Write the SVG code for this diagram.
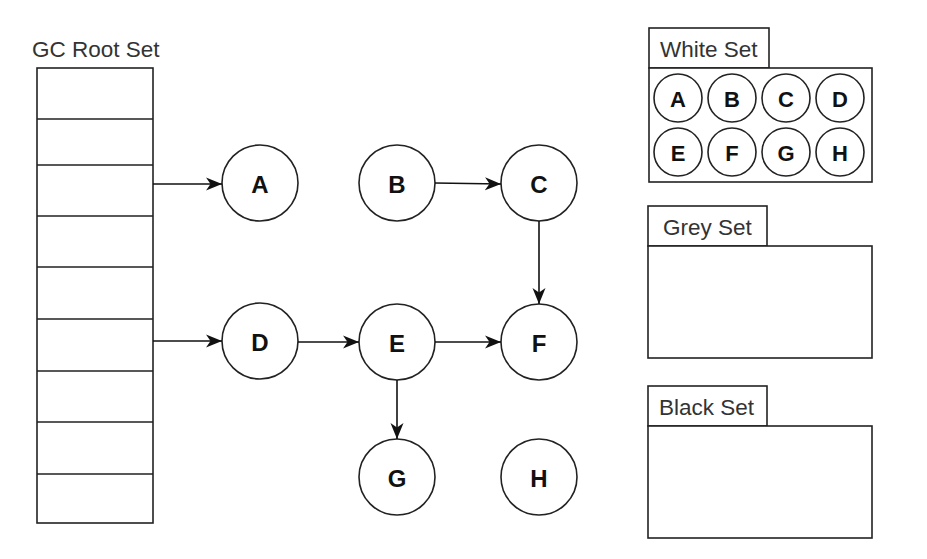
<svg xmlns="http://www.w3.org/2000/svg" width="927" height="559" viewBox="0 0 927 559">
<style>
.shape{fill:#fff;stroke:#222;stroke-width:1.6}
.lbl{font-family:"Liberation Sans",Arial,sans-serif;font-size:22.5px;fill:#333}
.node{font-family:"Liberation Sans",Arial,sans-serif;font-size:24px;font-weight:bold;fill:#111;text-anchor:middle;dominant-baseline:central}
.small{font-size:22px}
.edge{fill:none;stroke:#111;stroke-width:1.6;marker-end:url(#arrow)}
</style>
<defs>
<marker id="arrow" markerUnits="userSpaceOnUse" markerWidth="18" markerHeight="14" refX="16" refY="7" orient="auto">
<path d="M0,0.5 L16,7 L0,13.5 L4.5,7 Z" fill="#111"/>
</marker>
</defs>
<rect width="927" height="559" fill="#fff"/>

<g id="root-set">
<text class="lbl" x="32" y="57">GC Root Set</text>
<rect class="shape" x="37" y="68" width="116" height="455"/>
<path d="M37,119H153M37,165H153M37,216H153M37,267H153M37,319H153M37,371H153M37,422H153M37,474H153" stroke="#222" stroke-width="1.6" fill="none"/>
</g>

<g id="node-A"><circle class="shape" cx="260" cy="183" r="38"/><text class="node" x="260" y="184">A</text></g>
<g id="node-B"><circle class="shape" cx="397" cy="183" r="38"/><text class="node" x="397" y="184">B</text></g>
<g id="node-C"><circle class="shape" cx="539" cy="183" r="38"/><text class="node" x="539" y="184">C</text></g>
<g id="node-D"><circle class="shape" cx="260" cy="341" r="38"/><text class="node" x="260" y="342">D</text></g>
<g id="node-E"><circle class="shape" cx="397" cy="342" r="38"/><text class="node" x="397" y="343">E</text></g>
<g id="node-F"><circle class="shape" cx="539" cy="342" r="38"/><text class="node" x="539" y="343">F</text></g>
<g id="node-G"><circle class="shape" cx="397" cy="477" r="38"/><text class="node" x="397" y="478">G</text></g>
<g id="node-H"><circle class="shape" cx="539" cy="477" r="38"/><text class="node" x="539" y="478">H</text></g>

<g id="connectors">
<path class="edge" d="M153,184H222"/>
<path class="edge" d="M153,341H222"/>
<path class="edge" d="M435,183L501,184"/>
<path class="edge" d="M539,221V304"/>
<path class="edge" d="M298,342H359"/>
<path class="edge" d="M435,342H501"/>
<path class="edge" d="M397,380V439"/>
</g>

<g id="white-set">
<rect class="shape" x="649" y="28" width="120" height="40"/>
<rect class="shape" x="649" y="68" width="223" height="114"/>
<text class="lbl" x="660" y="57">White Set</text>
<circle class="shape" cx="678" cy="98" r="24"/><text class="node small" x="678" y="99">A</text>
<circle class="shape" cx="732" cy="98" r="24"/><text class="node small" x="732" y="99">B</text>
<circle class="shape" cx="786" cy="98" r="24"/><text class="node small" x="786" y="99">C</text>
<circle class="shape" cx="840" cy="98" r="24"/><text class="node small" x="840" y="99">D</text>
<circle class="shape" cx="678" cy="152" r="24"/><text class="node small" x="678" y="153">E</text>
<circle class="shape" cx="732" cy="152" r="24"/><text class="node small" x="732" y="153">F</text>
<circle class="shape" cx="786" cy="152" r="24"/><text class="node small" x="786" y="153">G</text>
<circle class="shape" cx="840" cy="152" r="24"/><text class="node small" x="840" y="153">H</text>
</g>

<g id="grey-set">
<rect class="shape" x="648" y="206" width="119" height="40"/>
<rect class="shape" x="648" y="246" width="224" height="112"/>
<text class="lbl" x="663" y="235">Grey Set</text>
</g>

<g id="black-set">
<rect class="shape" x="648" y="386" width="119" height="40"/>
<rect class="shape" x="648" y="426" width="224" height="112"/>
<text class="lbl" x="659" y="415">Black Set</text>
</g>
</svg>
